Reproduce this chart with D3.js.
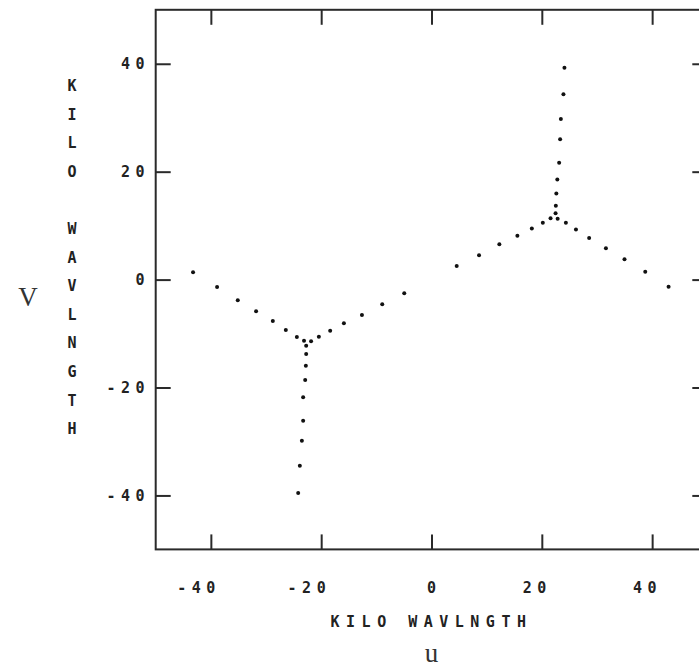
<html lang="en">
<head>
  <title>UV Coverage</title>
  <meta charset="utf-8">
  <script src="https://cdn.jsdelivr.net/npm/d3@7"></script>
  <style>
    body { margin: 0; background: #fff; }
    .tick_label { font-family: 'DejaVu Sans Mono', monospace; font-weight: bold; font-size: 15px; fill: #222; letter-spacing: 5.5px; }
    .axis_title { font-family: 'DejaVu Sans Mono', monospace; font-weight: bold; font-size: 15px; fill: #222; }
    .big_label { font-family: 'Liberation Serif', serif; font-size: 27px; fill: #333; }
  </style>
</head>
<body>
  <svg id='canvas' width='699' height='668'></svg>
</body>

<script>

// uv points (kilo wavelength)
var u_values = [24.10, 23.92, 23.45, 23.32, 23.14, 22.81, 22.63, 22.54, 22.49, 22.87,
                21.58, 20.18, 18.19, 15.57, 12.30, 8.62, 4.57,
                24.36, 26.19, 28.58, 31.62, 34.99, 38.75, 42.98,
                -24.17, -23.87, -23.50, -23.27, -23.27, -22.90, -22.78, -22.72, -22.72, -23.11,
                -21.83, -20.42, -18.37, -15.88, -12.61, -8.93, -4.94,
                -24.41, -26.41, -28.77, -31.80, -35.12, -38.87, -43.23];
var v_values = [39.28, 34.35, 29.77, 26.00, 21.67, 18.54, 15.94, 13.68, 12.29, 11.27,
                11.38, 10.55, 9.45, 8.14, 6.54, 4.50, 2.52,
                10.55, 9.27, 7.71, 5.80, 3.76, 1.46, -1.32,
                -39.56, -34.49, -29.86, -26.15, -21.82, -18.61, -15.96, -13.79, -12.25, -11.33,
                -11.44, -10.60, -9.47, -8.10, -6.56, -4.58, -2.54,
                -10.64, -9.34, -7.67, -5.88, -3.84, -1.37, 1.35];

var tick_values = [-40, -20, 0, 20, 40];
var x_title = 'KILO WAVLNGTH';
var y_title_letters = ['K', 'I', 'L', 'O', '', 'W', 'A', 'V', 'L', 'N', 'G', 'T', 'H'];

var svg = d3.select('#canvas');

var xScale = d3.scaleLinear().domain([-50, 50]).range([155.7, 707.3]);
var yScale = d3.scaleLinear().domain([-50, 50]).range([549.4, 9.8]);

/*******************************************************************************/
// frame and ticks, ticks pointing inwards on all four sides

var frame_color = '#2a2a2a';

svg.append('g').attr('transform', 'translate(0,' + yScale(-50) + ')')
  .call(d3.axisBottom(xScale).tickValues(tick_values).tickSize(-15).tickFormat(''))
  .attr('class', 'ax');
svg.append('g').attr('transform', 'translate(0,' + yScale(50) + ')')
  .call(d3.axisTop(xScale).tickValues(tick_values).tickSize(-15).tickFormat(''))
  .attr('class', 'ax');
svg.append('g').attr('transform', 'translate(' + xScale(-50) + ',0)')
  .call(d3.axisLeft(yScale).tickValues(tick_values).tickSize(-15).tickFormat(''))
  .attr('class', 'ax');
svg.append('g').attr('transform', 'translate(' + xScale(50) + ',0)')
  .call(d3.axisRight(yScale).tickValues(tick_values).tickSize(-15).tickFormat(''))
  .attr('class', 'ax');

svg.selectAll('.ax path').remove();
svg.selectAll('.ax line').style('stroke', frame_color).style('stroke-width', 2);

svg.append('rect')
  .attr('x', xScale(-50)).attr('y', yScale(50))
  .attr('width', xScale(50) - xScale(-50)).attr('height', yScale(-50) - yScale(50))
  .style('fill', 'none').style('stroke', frame_color).style('stroke-width', 2);

/*******************************************************************************/
// tick labels

svg.selectAll('.x_label').data(tick_values).enter()
  .append('text').attr('class', 'tick_label x_label')
  .attr('x', function(d){ return xScale(d) + 10; })
  .attr('y', 593)
  .attr('text-anchor', 'end')
  .text(function(d){ return d < 0 ? '-' + Math.abs(d) : '' + d; });

svg.selectAll('.y_label').data(tick_values).enter()
  .append('text').attr('class', 'tick_label y_label')
  .attr('x', 150)
  .attr('y', function(d){ return yScale(d) + 5.5; })
  .attr('text-anchor', 'end')
  .text(function(d){ return d < 0 ? '-' + Math.abs(d) : '' + d; });

/*******************************************************************************/
// axis titles

svg.append('text').attr('class', 'axis_title')
  .attr('x', 431.5).attr('y', 627)
  .attr('text-anchor', 'middle')
  .style('letter-spacing', '6.5px')
  .text(x_title);

svg.selectAll('.y_letter').data(y_title_letters).enter()
  .append('text').attr('class', 'axis_title y_letter')
  .attr('x', 72)
  .attr('y', function(d, i){ return 91 + i * 28.6; })
  .attr('text-anchor', 'middle')
  .text(function(d){ return d; });

svg.append('text').attr('class', 'big_label').attr('x', 28).attr('y', 306).attr('text-anchor', 'middle').text('V');
svg.append('text').attr('class', 'big_label').attr('x', 431.5).attr('y', 662).attr('text-anchor', 'middle').text('u');

/*******************************************************************************/
// uv points

var points = d3.range(u_values.length).map(function(i){ return { u: u_values[i], v: v_values[i] }; });

svg.append('g').selectAll('circle').data(points).enter()
  .append('circle')
  .attr('cx', function(d){ return xScale(d.u); })
  .attr('cy', function(d){ return yScale(d.v); })
  .attr('r', 2)
  .style('fill', '#111');

</script>
</html>
